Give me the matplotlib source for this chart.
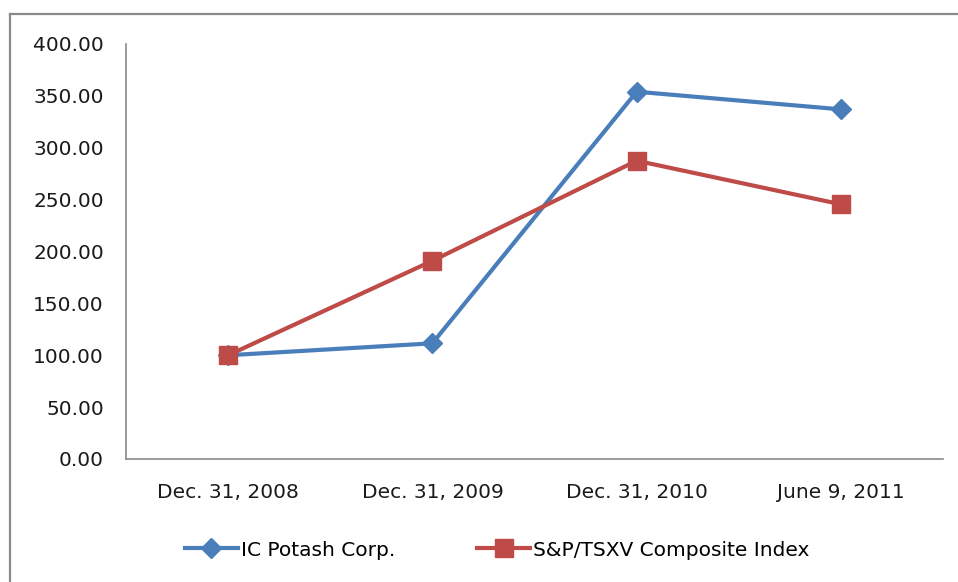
import matplotlib.pyplot as plt
from matplotlib.lines import Line2D

dates = ['Dec. 31, 2008', 'Dec. 31, 2009', 'Dec. 31, 2010', 'June 9, 2011']
ic_potash = [100.0, 111.5, 354.0, 337.0]
sp_tsxv = [100.0, 191.0, 287.5, 245.5]

plt.rcParams['font.family'] = ['DejaVu Sans']

fig = plt.figure(figsize=(9.58, 5.82), dpi=100)
# outer chart frame (only top and left visible in the crop)
fig.add_artist(Line2D([10/958, 1], [1-14/582, 1-14/582], color='#8a8a8a', lw=1.6,
                      transform=fig.transFigure))
fig.add_artist(Line2D([10/958, 10/958], [1-14/582, 0], color='#8a8a8a', lw=1.6,
                      transform=fig.transFigure))

ax = fig.add_axes([126/958, 1-459/582, (943-126)/958, (459-44)/582])
x = range(len(dates))
ax.plot(x, ic_potash, color='#4A7EBB', lw=3, marker='D', markersize=10,
        label='IC Potash Corp.')
ax.plot(x, sp_tsxv, color='#BE4B48', lw=3, marker='s', markersize=13,
        label='S&P/TSXV Composite Index')

ax.set_xlim(-0.5, 3.5)
ax.set_ylim(0, 400)
ax.set_yticks(range(0, 401, 50))
ax.set_yticklabels(['%.2f' % v for v in range(0, 401, 50)])
ax.set_xticks(list(x))
ax.set_xticklabels(dates)
ax.tick_params(axis='both', length=0, labelsize=14.5, colors='#1a1a1a')
ax.tick_params(axis='y', pad=16)
ax.tick_params(axis='x', pad=17)
for s in ['top', 'right']:
    ax.spines[s].set_visible(False)
for s in ['left', 'bottom']:
    ax.spines[s].set_color('#8a8a8a')
    ax.spines[s].set_linewidth(1.2)

fig.legend(loc='center', bbox_to_anchor=(0.519, 1-550/582), ncol=2, frameon=False,
           fontsize=14.5, handlelength=2.6, handletextpad=0.15, columnspacing=4.1)

plt.savefig('out.png', dpi=100)
